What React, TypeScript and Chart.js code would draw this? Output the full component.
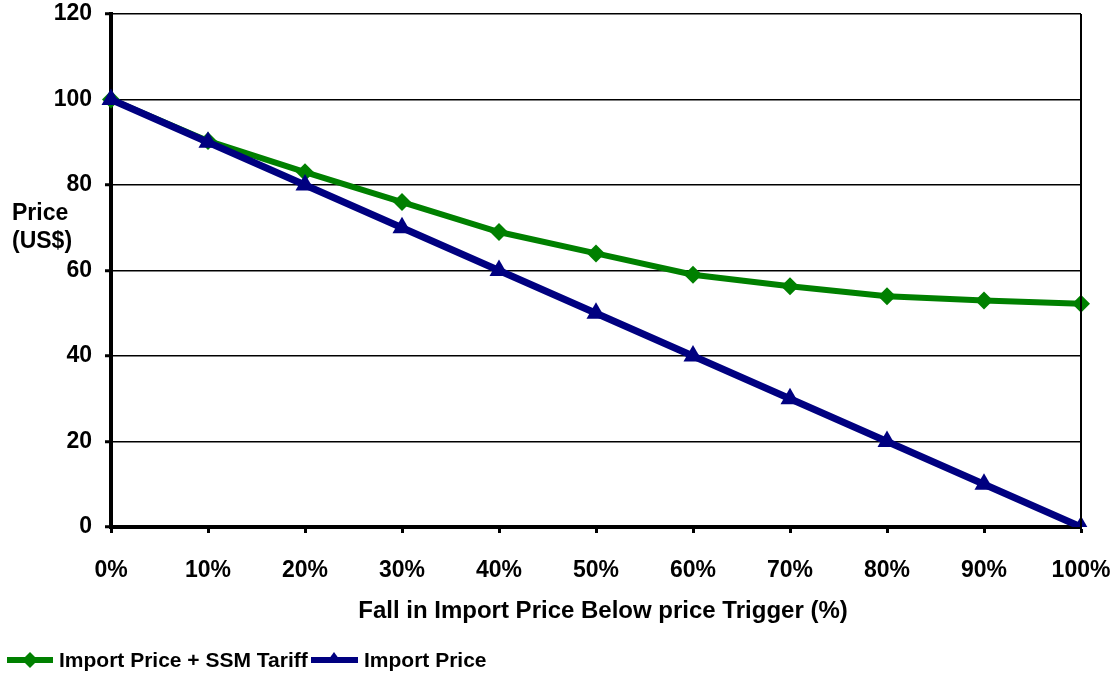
import React, { useEffect, useRef } from "react";
import { Chart, registerables } from "chart.js";

Chart.register(...registerables);

const categories = ["0%", "10%", "20%", "30%", "40%", "50%", "60%", "70%", "80%", "90%", "100%"];
const importPriceSSM = [100, 90.3, 83, 76, 69, 64, 59, 56.3, 54, 53, 52.2];
const importPrice = [100, 90, 80, 70, 60, 50, 40, 30, 20, 10, 0];
const seriesNames = ["Import Price + SSM Tariff", "Import Price"];
const yTitleLines = ["Price", "(US$)"];
const xTitle = "Fall in Import Price Below price Trigger (%)";

const GREEN = "#008000";
const NAVY = "#000080";
const FONT = "'Liberation Sans', Arial, sans-serif";
const TICK_FS = 23;

export default function App() {
  const ref = useRef<HTMLCanvasElement | null>(null);

  useEffect(() => {
    document.body.style.margin = "0";
    const canvas = ref.current!;
    const extras = {
      id: "extras",
      afterDraw(chart: any) {
        const ctx = chart.ctx;
        const ca = chart.chartArea;
        ctx.save();
        // right border
        ctx.strokeStyle = "#000";
        ctx.lineWidth = 2;
        ctx.beginPath();
        ctx.moveTo(ca.right, ca.top);
        ctx.lineTo(ca.right, ca.bottom);
        ctx.stroke();
        ctx.fillStyle = "#000";
        ctx.font = `bold 23px ${FONT}`;
        ctx.textBaseline = "middle";
        ctx.textAlign = "left";
        ctx.fillText(yTitleLines[0], 12, 214);
        ctx.fillText(yTitleLines[1], 12, 242);
        ctx.font = `bold 24px ${FONT}`;
        ctx.textAlign = "center";
        ctx.fillText(xTitle, (ca.left + ca.right) / 2 + 7, 611);
        // legend
        const ly = 660;
        ctx.font = `bold 21px ${FONT}`;
        ctx.textAlign = "left";
        // green
        ctx.strokeStyle = GREEN;
        ctx.lineWidth = 6;
        ctx.beginPath();
        ctx.moveTo(7, ly);
        ctx.lineTo(53, ly);
        ctx.stroke();
        ctx.fillStyle = GREEN;
        ctx.beginPath();
        ctx.moveTo(30, ly - 8);
        ctx.lineTo(38, ly);
        ctx.lineTo(30, ly + 8);
        ctx.lineTo(22, ly);
        ctx.closePath();
        ctx.fill();
        ctx.fillStyle = "#000";
        ctx.fillText(seriesNames[0], 59, ly + 1);
        // navy
        ctx.strokeStyle = NAVY;
        ctx.lineWidth = 6;
        ctx.beginPath();
        ctx.moveTo(311, ly);
        ctx.lineTo(358, ly);
        ctx.stroke();
        ctx.fillStyle = NAVY;
        ctx.beginPath();
        ctx.moveTo(334, ly - 8);
        ctx.lineTo(342, ly + 3);
        ctx.lineTo(326, ly + 3);
        ctx.closePath();
        ctx.fill();
        ctx.fillStyle = "#000";
        ctx.fillText(seriesNames[1], 364, ly + 1);
        ctx.restore();
      },
    };

    const chart = new Chart(canvas, {
      type: "line",
      data: {
        labels: categories,
        datasets: [
          {
            label: seriesNames[0],
            data: importPriceSSM,
            borderColor: GREEN,
            backgroundColor: GREEN,
            borderWidth: 6,
            pointStyle: "rectRot",
            pointRadius: 9,
            pointBorderWidth: 0,
            pointBackgroundColor: GREEN,
            tension: 0,
            order: 1,
          },
          {
            label: seriesNames[1],
            data: importPrice,
            borderColor: NAVY,
            backgroundColor: NAVY,
            borderWidth: 7,
            pointStyle: "triangle",
            pointRadius: 11,
            pointBorderWidth: 0,
            pointBackgroundColor: NAVY,
            tension: 0,
            order: 0,
          },
        ],
      },
      options: {
        animation: false,
        responsive: false,
        layout: { padding: { top: 14, right: 33, left: 0, bottom: 0 } },
        plugins: { legend: { display: false }, tooltip: { enabled: false } },
        scales: {
          x: {
            offset: false,
            grid: {
              drawOnChartArea: false,
              drawTicks: true,
              tickLength: 6,
              tickWidth: 3,
              tickColor: "#000",
            },
            border: { display: true, color: "#000", width: 4 },
            ticks: {
              color: "#000",
              font: { family: FONT, size: TICK_FS, weight: "bold" },
              padding: 24,
              maxRotation: 0,
              autoSkip: false,
            },
            afterFit(scale: any) {
              scale.height = 150;
              scale.paddingLeft = 0;
              scale.paddingRight = 0;
            },
          },
          y: {
            min: 0,
            max: 120,
            grid: {
              color: "#000",
              lineWidth: 1.5,
              drawTicks: true,
              tickLength: 6,
              tickWidth: 3,
              tickColor: "#000",
            },
            border: { display: true, color: "#000", width: 4 },
            ticks: {
              stepSize: 20,
              color: "#000",
              font: { family: FONT, size: TICK_FS, weight: "bold" },
              padding: 13,
            },
            afterFit(scale: any) {
              scale.width = 111;
              scale.paddingTop = 0;
              scale.paddingBottom = 0;
            },
          },
        },
      },
      plugins: [extras],
    } as any);
    return () => chart.destroy();
  }, []);

  return <canvas ref={ref} width={1114} height={677} style={{ display: "block" }} />;
}
